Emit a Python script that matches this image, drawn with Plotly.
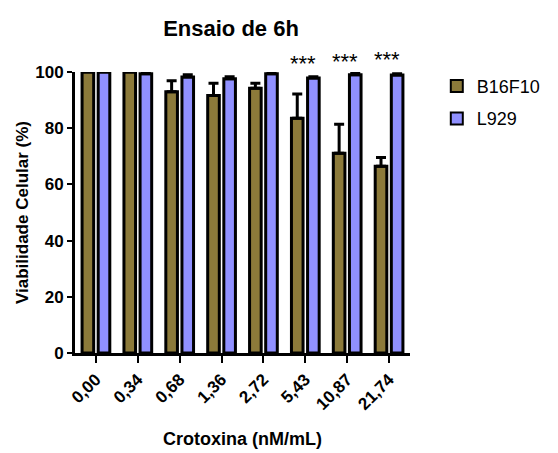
import plotly.graph_objects as go

categories = ["0,00", "0,34", "0,68", "1,36", "2,72", "5,43", "10,87", "21,74"]
b16f10 = [100, 100, 93.0, 91.6, 94.2, 83.5, 71.1, 66.5]
b16f10_sd = [0, 0, 3.9, 4.4, 1.8, 8.7, 10.3, 3.1]
l929 = [100, 99.4, 98.2, 97.6, 99.4, 97.9, 99.0, 98.9]
l929_sd = [0, 0.3, 0.8, 0.7, 0.3, 0.4, 0.5, 0.5]
stars = ["", "", "", "", "", "***", "***", "***"]
star_level = [None, None, None, None, None, 103.2, 103.9, 104.3]
y_max = 100

FONT = "Liberation Sans"
fig = go.Figure()
fig.add_trace(go.Bar(
    x=categories, y=b16f10, name="B16F10", legendgroup="a",
    marker=dict(color="#8C7A3A", line=dict(color="black", width=3)),
    error_y=dict(type="data", array=b16f10_sd, arrayminus=[0]*8, symmetric=False,
                 color="black", thickness=3, width=5),
    cliponaxis=False,
))
fig.add_trace(go.Bar(
    x=categories, y=l929, name="L929", legendgroup="b",
    marker=dict(color="#9090FF", line=dict(color="black", width=3)),
    error_y=dict(type="data", array=l929_sd, arrayminus=[0]*8, symmetric=False,
                 color="black", thickness=3, width=5),
    cliponaxis=False,
))
for c, s, lv in zip(categories, stars, star_level):
    if s:
        fig.add_annotation(x=c, xref="x", y=lv / y_max, yref="y domain",
                           text=s, showarrow=False, xshift=-2,
                           font=dict(family=FONT, size=22, color="black"),
                           yanchor="middle")

fig.update_layout(
    width=558, height=453,
    margin=dict(l=75, r=135, t=72, b=100),
    paper_bgcolor="white", plot_bgcolor="white",
    barmode="group", bargap=0.23, bargroupgap=0.28,
    title=dict(text="Ensaio de 6h", x=0.414, xanchor="center", y=0.938, yanchor="middle",
               font=dict(family=FONT, size=22, color="black", weight="bold")),
    legend=dict(x=1.08, y=1.015, xanchor="left", yanchor="top",
                font=dict(family=FONT, size=18, color="black"),
                tracegroupgap=6, traceorder="grouped", itemsizing="constant"),
    showlegend=True,
)
fig.update_xaxes(
    automargin=False,
    showline=True, linecolor="black", linewidth=3,
    ticks="outside", ticklen=7, tickwidth=2, tickcolor="black",
    tickangle=-45, range=[-0.5, 7.5],
    tickfont=dict(family=FONT, size=17, color="black", weight="bold"),
    title=dict(text="Crotoxina (nM/mL)", standoff=20,
               font=dict(family=FONT, size=18, color="black", weight="bold")),
    showgrid=False, zeroline=False,
)
fig.update_yaxes(
    automargin=False,
    showline=True, linecolor="black", linewidth=3,
    ticks="outside", ticklen=5, tickwidth=2, tickcolor="black",
    range=[0, y_max], tickvals=[0, 20, 40, 60, 80, 100],
    tickfont=dict(family=FONT, size=17, color="black", weight="bold"),
    title=dict(text="Viabilidade Celular (%)", standoff=3,
               font=dict(family=FONT, size=17, color="black", weight="bold")),
    showgrid=False, zeroline=False,
)
fig.write_html("out.html")
